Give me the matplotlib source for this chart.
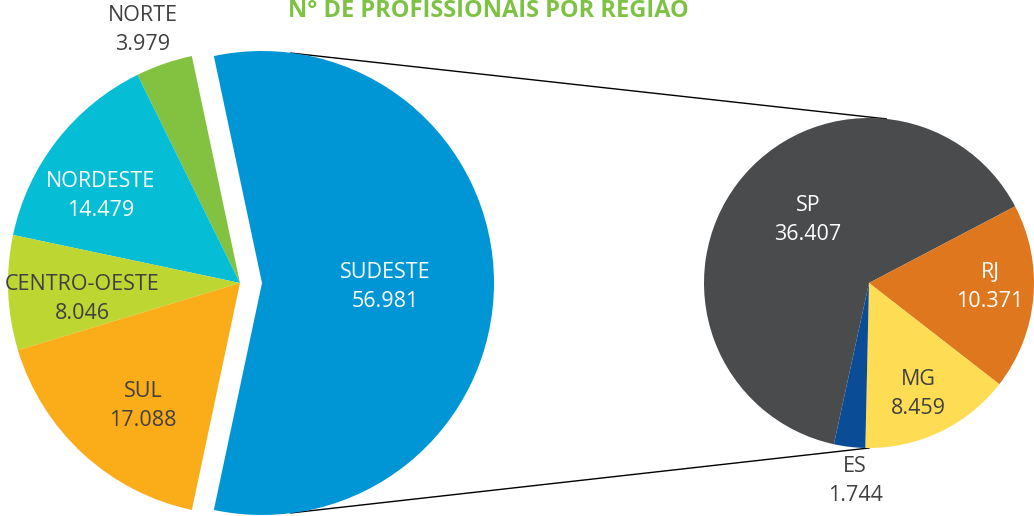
import numpy as np
import matplotlib.pyplot as plt

plt.rcParams['font.family'] = ['Open Sans', 'DejaVu Sans']

# regions (left pie)
regioes = ['SUDESTE', 'NORTE', 'NORDESTE', 'CENTRO-OESTE', 'SUL']
profissionais = [56981, 3979, 14479, 8046, 17088]
cores_reg = ['#0096d6', '#83c241', '#06bdd6', '#bed631', '#fbac19']
txt_reg = ['white', '#404040', 'white', '#404040', '#404040']

# states of SUDESTE (right pie)
estados = ['SP', 'RJ', 'MG', 'ES']
prof_estados = [36407, 10371, 8459, 1744]
cores_est = ['#4a4b4d', '#df771e', '#fedd55', '#0b4c97']
txt_est = ['white', 'white', '#404040', '#404040']

titulo = 'N° DE PROFISSIONAIS POR REGIAO'


def fmt(v):
    return f'{v:,}'.replace(',', '.')


W, H = 1034, 516
fig = plt.figure(figsize=(W / 100, H / 100), dpi=100)
ax = fig.add_axes([0, 0, 1, 1])

# left pie, SUDESTE exploded and centred on 0 deg
r1 = 232
c1 = (240, H - 283)
sud_deg = 360 * profissionais[0] / sum(profissionais)
w1, _ = ax.pie(profissionais, colors=cores_reg, radius=r1, center=c1,
               startangle=-sud_deg / 2, explode=[22, 0, 0, 0, 0],
               wedgeprops=dict(linewidth=0))

# right pie
r2 = 165
c2 = (869, H - 283)
w2, _ = ax.pie(prof_estados, colors=cores_est, radius=r2, center=c2,
               startangle=257.7, counterclock=False,
               wedgeprops=dict(linewidth=0))

ax.set_xlim(0, W)
ax.set_ylim(0, H)
ax.set_aspect('equal')
ax.axis('off')

# label positions (pixel coords)
pos_reg = [(385, 287), (143, 30), (101, 196), (82, 299), (143, 406)]
pos_est = [(808, 220), (990, 287), (918, 394), (855, 481)]
for nome, v, (x, y), c in zip(regioes, profissionais, pos_reg, txt_reg):
    ax.text(x, H - y, f'{nome}\n{fmt(v)}', ha='center', va='center',
            fontsize=15.5, color=c, linespacing=1.55)
for nome, v, (x, y), c in zip(estados, prof_estados, pos_est, txt_est):
    ax.text(x, H - y, f'{nome}\n{fmt(v)}', ha='center', va='center',
            fontsize=15.5, color=c, linespacing=1.55)

# connector lines between SUDESTE wedge and right pie
sud = w1[0]
th1, th2 = np.deg2rad(sud.theta1), np.deg2rad(sud.theta2)
cx, cy = sud.center
a_top = (cx + r1 * np.cos(th2) + 77, cy + r1 * np.sin(th2) + 3)
a_bot = (cx + r1 * np.cos(th1) + 77, cy + r1 * np.sin(th1) - 3)
b_top = (c2[0] + r2 * np.cos(np.deg2rad(84)), c2[1] + r2 * np.sin(np.deg2rad(84)))
b_bot = (c2[0] + r2 * np.cos(np.deg2rad(-90)), c2[1] + r2 * np.sin(np.deg2rad(-90)))
ax.plot([a_top[0], b_top[0]], [a_top[1], b_top[1]], color='black', lw=1, zorder=0)
ax.plot([a_bot[0], b_bot[0]], [a_bot[1], b_bot[1]], color='black', lw=1, zorder=0)

ax.text(488, H - 11, titulo, ha='center', va='center', fontsize=17,
        fontweight='bold', color='#7dc243')

fig.savefig('out.png', dpi=100)
